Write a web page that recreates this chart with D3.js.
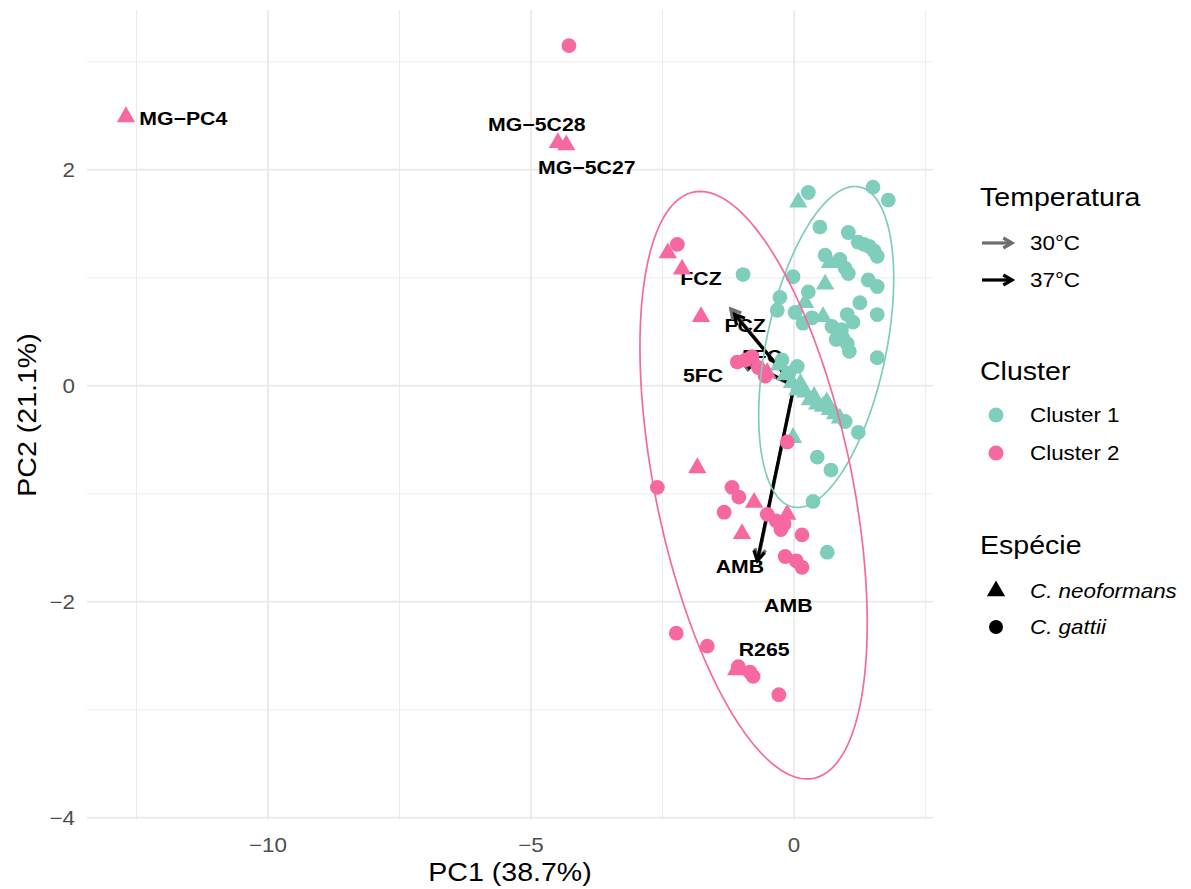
<!DOCTYPE html>
<html>
<head>
<meta charset="utf-8">
<script src="https://cdn.jsdelivr.net/npm/d3@7/dist/d3.min.js"></script>
<style>
  body { margin: 0; background: #ffffff; }
  text { font-family: "Liberation Sans", Arial, Helvetica, sans-serif; }
</style>
</head>
<body>
<svg id="chart" width="1191" height="889"></svg>
<script>
// ---- PCA scores: [PC1, PC2] ----
const cluster1Gattii = [
  [0.27, 1.79], [1.50, 1.84], [1.79, 1.72], [0.49, 1.47], [1.03, 1.42],
  [1.22, 1.33], [1.33, 1.31], [1.43, 1.29], [1.52, 1.25], [1.58, 1.20],
  [0.59, 1.21], [0.87, 1.17], [0.97, 1.09], [1.03, 1.04], [1.41, 0.98],
  [1.58, 0.92], [-0.02, 1.01], [-0.97, 1.03], [0.27, 0.87], [-0.27, 0.82],
  [1.25, 0.77], [-0.32, 0.70], [0.02, 0.68], [0.34, 0.63], [1.01, 0.66],
  [1.12, 0.59], [1.58, 0.66], [0.72, 0.55], [0.84, 0.49], [0.93, 0.44],
  [1.01, 0.39], [1.05, 0.32], [0.80, 0.43], [1.58, 0.26], [-0.23, 0.24],
  [0.06, 0.18], [1.22, -0.43], [0.97, -0.33], [0.44, -0.66], [0.70, -0.78],
  [0.36, -1.07], [0.63, -1.54], [0.17, 0.58], [0.90, 0.52], [-0.10, 0.12]
];
const cluster1Neoformans = [
  [0.08, 1.70], [0.68, 1.14], [0.59, 0.94], [0.21, 0.77], [0.55, 0.64],
  [-0.29, 0.19], [-0.17, 0.10], [-0.04, 0.03], [0.06, -0.04], [0.21, -0.06],
  [0.30, -0.13], [0.44, -0.17], [0.55, -0.19], [0.68, -0.22], [0.78, -0.26],
  [0.87, -0.30], [-0.02, -0.48], [0.12, 0.02], [0.38, -0.10], [0.62, -0.15]
];
const cluster2Gattii = [
  [-4.28, 3.15], [-2.22, 1.31], [-1.08, 0.22], [-0.80, 0.27], [-0.68, 0.17],
  [-0.55, 0.09], [-0.13, -0.52], [-2.60, -0.94], [-1.18, -0.94], [-1.05, -1.03],
  [-1.33, -1.17], [-0.51, -1.19], [-0.34, -1.25], [-0.19, -1.28], [-0.25, -1.33],
  [0.15, -1.38], [-0.17, -1.58], [0.04, -1.62], [0.15, -1.68], [-2.24, -2.29],
  [-1.65, -2.41], [-1.06, -2.60], [-0.84, -2.65], [-0.78, -2.69], [-0.29, -2.86],
  [-0.92, 0.24]
];
const cluster2Neoformans = [
  [-12.70, 2.49], [-4.49, 2.25], [-4.33, 2.23], [-2.40, 1.23], [-2.13, 1.08],
  [-1.77, 0.64], [-1.84, -0.76], [-0.99, -1.37], [-0.76, -1.08], [-0.13, -1.19],
  [-0.51, 0.12], [-1.10, -2.63]
];

// ---- Labelled strains ----
const strainNames = ["MG\u2212PC4", "MG\u22125C28", "MG\u22125C27", "R265"];
const strainLabelPos = [[-11.61, 2.48], [-4.89, 2.42], [-3.94, 2.02], [-0.57, -2.44]];

// ---- Loadings (drug response at each temperature) ----
const loadingVars = ["FCZ", "5FC", "AMB"];
const loadings30 = [[-1.20, 0.71], [-0.98, 0.22], [-0.68, -1.60]];
const loadings37 = [[-1.13, 0.66], [-0.95, 0.24], [-0.70, -1.62]];
const labelPos30 = [[-1.77, 0.99], [-1.73, 0.10], [-0.11, -2.03]];
const labelPos37 = [[-0.93, 0.56], [-0.61, 0.27], [-1.03, -1.67]];

// ---- 95% ellipses: centre, spread and correlation per cluster ----
const ellipseCenter = [[0.61, 0.36], [-0.77, -0.92]];
const ellipseSpread = [[1.283, 1.486], [2.16, 2.72]];
const ellipseCorr = [0.425, -0.47];

// ---- Axes ----
const xDomain = [-13.44, 2.64];
const yDomain = [-4.02, 3.48];
const xMajor = [-10, -5, 0];
const xMinor = [-12.5, -7.5, -2.5, 2.5];
const yMajor = [-4, -2, 0, 2];
const yMinor = [-3, -1, 1, 3];
const xTitle = "PC1 (38.7%)";
const yTitle = "PC2 (21.1%)";

// ---- Legend ----
const tempTitle = "Temperatura";
const tempLabels = ["30\u00B0C", "37\u00B0C"];
const clusterTitle = "Cluster";
const clusterLabels = ["Cluster 1", "Cluster 2"];
const speciesTitle = "Esp\u00E9cie";
const speciesLabels = ["C. neoformans", "C. gattii"];

// ---- Styling ----
const clusterColors = ["#7fcdbb", "#f768a1"];
const tempColors = ["#6e6e6e", "#000000"];
const grid = "#ebebeb";
const STRETCH = 1.12;

const svg = d3.select("#chart");
const panel = { left: 87, right: 933, top: 10, bottom: 820 };

const x = d3.scaleLinear().domain(xDomain).range([panel.left, panel.right]);
const y = d3.scaleLinear().domain(yDomain).range([panel.bottom, panel.top]);

function label(g, str, px, py, opts) {
  const t = g.append("text")
    .attr("transform", `translate(${px},${py})${opts.rotate ? " rotate(" + opts.rotate + ")" : ""} scale(${STRETCH},1)`)
    .attr("text-anchor", opts.anchor || "start")
    .attr("font-size", opts.size)
    .attr("fill", opts.fill || "#000")
    .text(str);
  if (opts.bold) t.attr("font-weight", "bold");
  if (opts.italic) t.attr("font-style", "italic");
  return t;
}

// Grid
const gGrid = svg.append("g");
gGrid.selectAll(".vmin").data(xMinor).join("line")
  .attr("x1", d => x(d)).attr("x2", d => x(d))
  .attr("y1", panel.top).attr("y2", panel.bottom)
  .attr("stroke", grid).attr("stroke-width", 1);
gGrid.selectAll(".hmin").data(yMinor).join("line")
  .attr("y1", d => y(d)).attr("y2", d => y(d))
  .attr("x1", panel.left).attr("x2", panel.right)
  .attr("stroke", grid).attr("stroke-width", 1);
gGrid.selectAll(".vmaj").data(xMajor).join("line")
  .attr("x1", d => x(d)).attr("x2", d => x(d))
  .attr("y1", panel.top).attr("y2", panel.bottom)
  .attr("stroke", grid).attr("stroke-width", 2);
gGrid.selectAll(".hmaj").data(yMajor).join("line")
  .attr("y1", d => y(d)).attr("y2", d => y(d))
  .attr("x1", panel.left).attr("x2", panel.right)
  .attr("stroke", grid).attr("stroke-width", 2);

// Axes (tick labels only, in the minimal style)
const tickFmt = d => (d < 0 ? "\u2212" + Math.abs(d) : String(d));
const gAxes = svg.append("g");
xMajor.forEach(d => label(gAxes, tickFmt(d), x(d), 852, { anchor: "middle", size: 20, fill: "#4d4d4d" }));
yMajor.forEach(d => label(gAxes, tickFmt(d), 75, y(d) + 7, { anchor: "end", size: 20, fill: "#4d4d4d" }));
label(gAxes, xTitle, (panel.left + panel.right) / 2, 881, { anchor: "middle", size: 25.5 });
label(gAxes, yTitle, 36, (panel.top + panel.bottom) / 2, { anchor: "middle", size: 25.5, rotate: -90 });

// Loading labels
const gLoadLab = svg.append("g");
loadingVars.forEach((v, i) => {
  label(gLoadLab, v, x(labelPos30[i][0]), y(labelPos30[i][1]) + 6.5, { anchor: "middle", size: 19, bold: true });
  label(gLoadLab, v, x(labelPos37[i][0]), y(labelPos37[i][1]) + 6.5, { anchor: "middle", size: 19, bold: true });
});

// Arrow drawing helper
function arrow(g, x0, y0, x1, y1, color, width, head) {
  const ang = Math.atan2(y1 - y0, x1 - x0);
  const a1 = ang + Math.PI - Math.PI / 6, a2 = ang + Math.PI + Math.PI / 6;
  g.append("line").attr("x1", x0).attr("y1", y0).attr("x2", x1).attr("y2", y1)
    .attr("stroke", color).attr("stroke-width", width).attr("stroke-linecap", "butt");
  g.append("path")
    .attr("d", `M${x1 + head * Math.cos(a1)},${y1 + head * Math.sin(a1)}L${x1},${y1}L${x1 + head * Math.cos(a2)},${y1 + head * Math.sin(a2)}`)
    .attr("fill", "none").attr("stroke", color).attr("stroke-width", width)
    .attr("stroke-linejoin", "miter").attr("stroke-linecap", "butt");
}

const gArrows = svg.append("g");
loadings30.forEach(d => arrow(gArrows, x(0), y(0), x(d[0]), y(d[1]), tempColors[0], 3.4, 11));
loadings37.forEach(d => arrow(gArrows, x(0), y(0), x(d[0]), y(d[1]), tempColors[1], 3.2, 11));

// Points
const triangle = d3.symbol().type(d3.symbolTriangle).size(145);
const gPts = svg.append("g");
function circles(data, color) {
  gPts.selectAll(null).data(data).join("circle")
    .attr("cx", d => x(d[0])).attr("cy", d => y(d[1])).attr("r", 7.4).attr("fill", color);
}
function triangles(data, color) {
  gPts.selectAll(null).data(data).join("path")
    .attr("d", triangle)
    .attr("transform", d => `translate(${x(d[0])},${y(d[1])})`)
    .attr("fill", color);
}
circles(cluster1Gattii, clusterColors[0]);
triangles(cluster1Neoformans, clusterColors[0]);
circles(cluster2Gattii, clusterColors[1]);
triangles(cluster2Neoformans, clusterColors[1]);

// Ellipses
const gEll = svg.append("g");
const ts = d3.range(0, 2 * Math.PI + 0.01, Math.PI / 90);
const line = d3.line().x(p => x(p[0])).y(p => y(p[1]));
ellipseCenter.forEach((c, i) => {
  const [sx, sy] = ellipseSpread[i], r = ellipseCorr[i], s = Math.sqrt(1 - r * r);
  const pts = ts.map(t => [c[0] + sx * Math.cos(t), c[1] + sy * (r * Math.cos(t) + s * Math.sin(t))]);
  gEll.append("path").attr("d", line(pts)).attr("fill", "none")
    .attr("stroke", clusterColors[i]).attr("stroke-width", 1.7);
});

// Strain labels
const gStrain = svg.append("g");
strainNames.forEach((n, i) => {
  label(gStrain, n, x(strainLabelPos[i][0]), y(strainLabelPos[i][1]) + 6.5, { anchor: "middle", size: 19, bold: true });
});

// Legend
const gLeg = svg.append("g");
const lx = 980, kx = 996, tx = 1030;
label(gLeg, tempTitle, lx, 206, { size: 25.5 });
[243, 280].forEach((cy, i) => {
  arrow(gLeg, kx - 14, cy, kx + 16, cy, tempColors[i], 3.2, 10);
  label(gLeg, tempLabels[i], tx, cy + 7, { size: 20 });
});
label(gLeg, clusterTitle, lx, 380, { size: 25.5 });
[415, 453].forEach((cy, i) => {
  gLeg.append("circle").attr("cx", kx).attr("cy", cy).attr("r", 7.5).attr("fill", clusterColors[i]);
  label(gLeg, clusterLabels[i], tx, cy + 7, { size: 20 });
});
label(gLeg, speciesTitle, lx, 554, { size: 25.5 });
gLeg.append("path").attr("d", triangle).attr("transform", `translate(${kx},591)`).attr("fill", "#000");
label(gLeg, speciesLabels[0], tx, 598, { size: 20, italic: true });
gLeg.append("circle").attr("cx", kx).attr("cy", 627).attr("r", 7).attr("fill", "#000");
label(gLeg, speciesLabels[1], tx, 634, { size: 20, italic: true });
</script>
</body>
</html>
